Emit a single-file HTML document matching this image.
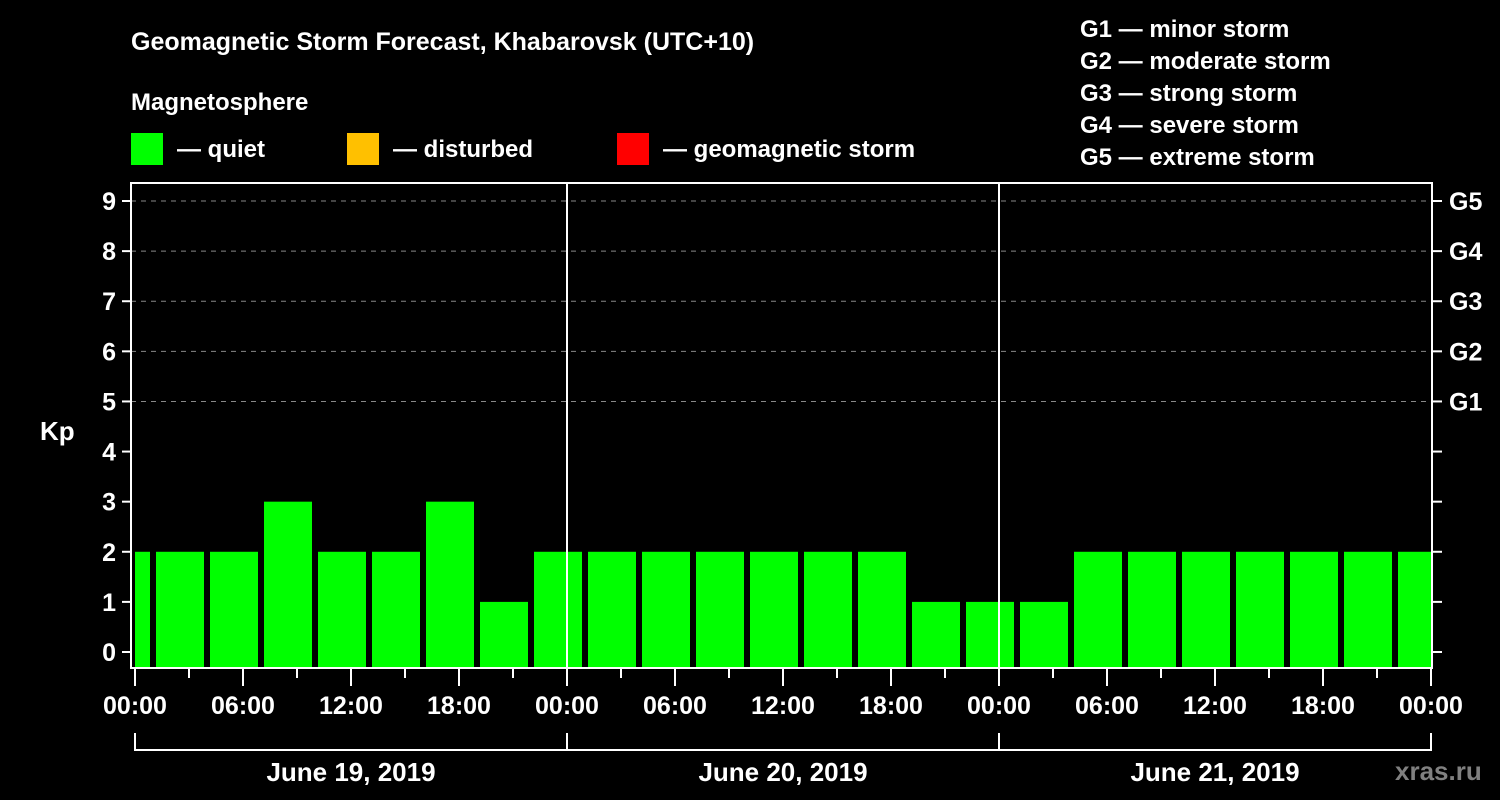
<!DOCTYPE html>
<html><head><meta charset="utf-8"><style>
body{margin:0;background:#000;}
svg{display:block;font-family:"Liberation Sans",sans-serif;font-weight:bold;}
</style></head><body>
<svg id="chart" width="1500" height="800" viewBox="0 0 1500 800">
<rect width="1500" height="800" fill="#000"/>
<text x="131" y="50" fill="#fff" font-size="25">Geomagnetic Storm Forecast, Khabarovsk (UTC+10)</text>
<text x="131" y="110" fill="#fff" font-size="24">Magnetosphere</text>
<g><rect x="131" y="133" width="32" height="32" fill="#00ff00"/><text x="177" y="157" fill="#fff" font-size="24">— quiet</text></g>
<g><rect x="347" y="133" width="32" height="32" fill="#ffc000"/><text x="393" y="157" fill="#fff" font-size="24">— disturbed</text></g>
<g><rect x="617" y="133" width="32" height="32" fill="#ff0000"/><text x="663" y="157" fill="#fff" font-size="24">— geomagnetic storm</text></g>
<g fill="#fff" font-size="24">
<text x="1080" y="37">G1 — minor storm</text>
<text x="1080" y="69">G2 — moderate storm</text>
<text x="1080" y="101">G3 — strong storm</text>
<text x="1080" y="133">G4 — severe storm</text>
<text x="1080" y="165">G5 — extreme storm</text>
</g>
<text x="40" y="440" fill="#fff" font-size="26">Kp</text>
<text x="1395" y="780" fill="#808080" font-size="26">xras.ru</text>
<g id="grid"></g><g id="bars"></g><g id="axes"></g>
</svg>
<script>
const kpValues=[2,2,2,3,2,2,3,1,2,2,2,2,2,2,2,1,1,1,2,2,2,2,2,2,2];
const yTicks=[0,1,2,3,4,5,6,7,8,9];
const gLabels=["G1","G2","G3","G4","G5"];
const dayLabels=["June 19, 2019","June 20, 2019","June 21, 2019"];
const timeLabels=["00:00","06:00","12:00","18:00"];
const NS="http://www.w3.org/2000/svg";
const X0=135,PXH=18,L=131,R=1432,T=183,B=668;
const x=h=>X0+h*PXH;
const y=v=>652-v*50.11;
function mk(p,tag,at,txt){const e=document.createElementNS(NS,tag);for(const k in at)e.setAttribute(k,at[k]);if(txt!=null)e.textContent=txt;p.appendChild(e);return e;}
const grid=document.getElementById('grid'),bars=document.getElementById('bars'),axes=document.getElementById('axes');
for(let v=5;v<=9;v++){const g=mk(grid,'line',{x1:L,x2:R,y1:y(v),y2:y(v),stroke:'#888','stroke-width':1,'stroke-dasharray':'5,5'});

}
kpValues.forEach((v,i)=>{let s=-2+3*i;let x1=Math.max(x(s)+3,X0),x2=Math.min(x(s+3)-3,x(72));
const r=mk(bars,'rect',{x:x1,y:y(v),width:x2-x1,height:B-y(v),fill:'#00ff00'});

});
mk(axes,'rect',{x:L,y:T,width:R-L,height:B-T,fill:'none',stroke:'#fff','stroke-width':2});
for(let d=1;d<3;d++){const l=mk(axes,'line',{x1:x(24*d),x2:x(24*d),y1:T,y2:B,stroke:'#fff','stroke-width':2});

}
yTicks.forEach(v=>{mk(axes,'line',{x1:122,x2:L,y1:y(v),y2:y(v),stroke:'#fff','stroke-width':2});
mk(axes,'line',{x1:R,x2:1442,y1:y(v),y2:y(v),stroke:'#fff','stroke-width':2});
const t=mk(axes,'text',{x:116,y:y(v)+9,fill:'#fff','font-size':25,'text-anchor':'end'},v);

});
gLabels.forEach((g,i)=>{const t=mk(axes,'text',{x:1449,y:y(5+i)+9,fill:'#fff','font-size':25},g);

});
for(let h=0;h<=72;h+=3){const major=h%6===0;mk(axes,'line',{x1:x(h),x2:x(h),y1:B,y2:major?686:678,stroke:'#fff','stroke-width':2});
if(major){const t=mk(axes,'text',{x:x(h),y:714,fill:'#fff','font-size':25,'text-anchor':'middle'},timeLabels[(h/6)%4]);

}}
mk(axes,'line',{x1:x(0),x2:x(72),y1:750,y2:750,stroke:'#fff','stroke-width':2});
for(let d=0;d<=3;d++)mk(axes,'line',{x1:x(24*d),x2:x(24*d),y1:733,y2:751,stroke:'#fff','stroke-width':2});
dayLabels.forEach((s,i)=>{const t=mk(axes,'text',{x:x(24*i+12),y:781,fill:'#fff','font-size':26,'text-anchor':'middle'},s);

});
</script>
</body></html>
